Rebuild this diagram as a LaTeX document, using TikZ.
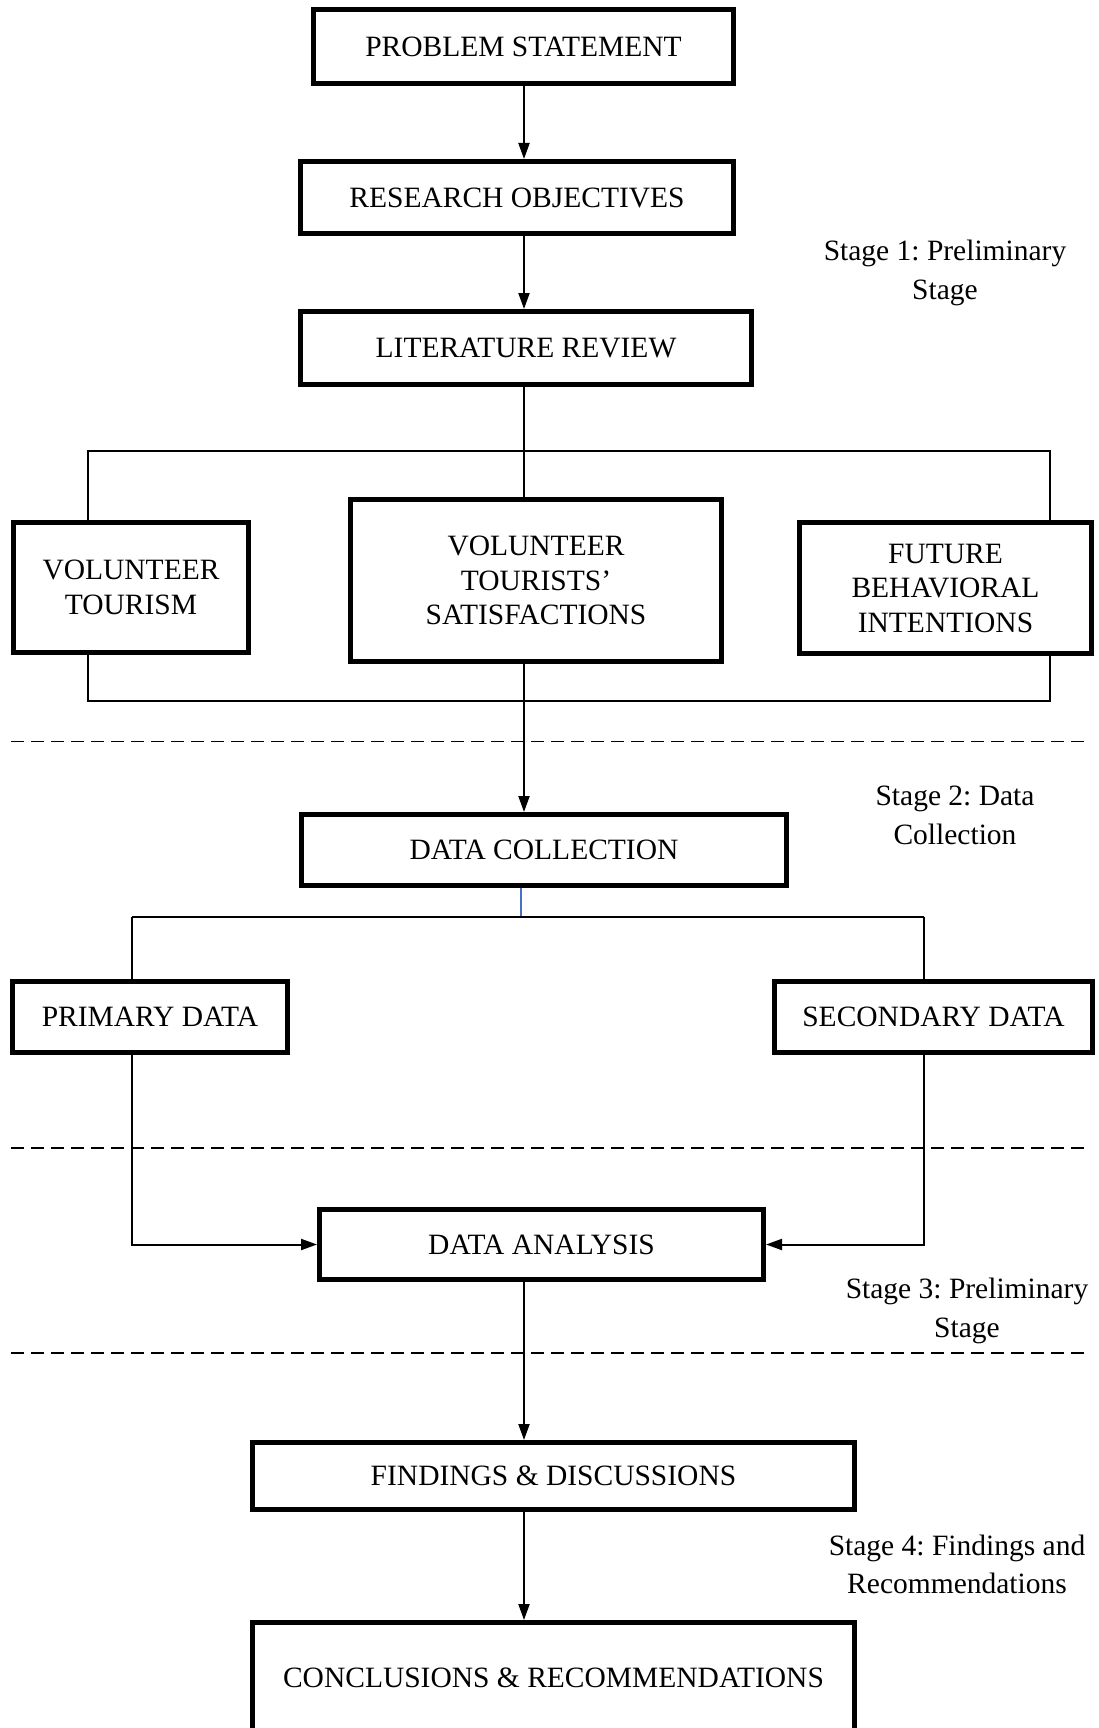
\documentclass[tikz,border=0pt]{standalone}
\usepackage{fontspec}
\setmainfont{Liberation Serif}
\usetikzlibrary{arrows.meta}
\definecolor{linkblue}{RGB}{68,114,196}
\frenchspacing
\begin{document}
\begin{tikzpicture}[x=1pt,y=-1pt,
  box/.style={draw,line width=5pt,fill=white,inner sep=0pt,align=center,font=\fontsize{29.5}{34.5}\selectfont},
  conn/.style={line width=2pt},
  arr/.style={line width=2pt,-{Triangle[length=16pt,width=11pt]}},
  stagelbl/.style={align=center,font=\fontsize{29.5}{38.5}\selectfont,inner sep=0pt},
  sep/.style={line width=1.8pt,dash pattern=on 13pt off 7pt}]
\useasboundingbox (0,0) rectangle (1098,1728);
\clip (0,0) rectangle (1098,1728);
\fill[white] (0,0) rectangle (1098,1728);

% separators
\coordinate (d1a) at (11,741.5);  \coordinate (d1b) at (1091,741.5);
\coordinate (d2a) at (11,1148);   \coordinate (d2b) at (1091,1148);
\coordinate (d3a) at (11,1353);   \coordinate (d3b) at (1091,1353);
\draw[sep] (d1a) -- (d1b);
\draw[sep] (d2a) -- (d2b);
\draw[sep] (d3a) -- (d3b);

% bracket around literature topics
\coordinate (bTL) at (88,451);
\coordinate (bBR) at (1049.5,700.5);
\draw[conn] (bTL) rectangle (bBR);

% spine
\coordinate (sp) at (524,0);

% boxes
\node[box,minimum width=420,minimum height=74] (ps) at (523.5,46.5) {PROBLEM STATEMENT};
\node[box,minimum width=433,minimum height=72] (ro) at (517,197.5) {RESEARCH OBJECTIVES};
\node[box,minimum width=451,minimum height=73] (lit) at (526,348) {LITERATURE REVIEW};
\node[box,minimum width=235,minimum height=130] (vt) at (131,587.5) {VOLUNTEER\\TOURISM};
\node[box,minimum width=371,minimum height=162] (vts) at (536,580.5) {VOLUNTEER\\TOURISTS’\\SATISFACTIONS};
\node[box,minimum width=292,minimum height=131] (fbi) at (945.5,588) {FUTURE\\BEHAVIORAL\\INTENTIONS};
\node[box,minimum width=485,minimum height=71] (dc) at (544,850) {DATA COLLECTION};
\node[box,minimum width=275,minimum height=71] (prim) at (150,1017) {PRIMARY DATA};
\node[box,minimum width=318,minimum height=71] (sec) at (933.5,1017) {SECONDARY DATA};
\node[box,minimum width=444,minimum height=70] (da) at (541.5,1244.5) {DATA ANALYSIS};
\node[box,minimum width=602,minimum height=67] (fd) at (553.5,1476) {FINDINGS \& DISCUSSIONS};
\node[box,minimum width=602,minimum height=111] (cr) at (553.5,1678) {CONCLUSIONS \& RECOMMENDATIONS};

% stage labels
\node[stagelbl] (s1) at (945,273) {Stage 1: Preliminary\\Stage};
\node[stagelbl] (s2) at (955,815.5) {Stage 2: Data\\Collection};
\node[stagelbl] (s3) at (967,1311) {Stage 3: Preliminary\\Stage};
\node[stagelbl] (s4) at (957,1564.5) {Stage 4: Findings and\\Recommendations};

% connectors
\draw[arr] (ps.south -| sp) -- (ro.north -| sp);
\draw[arr] (ro.south -| sp) -- (lit.north -| sp);
\draw[conn] (lit.south -| sp) -- (vts.north -| sp);
\draw[arr] (vts.south -| sp) -- (dc.north -| sp);

\coordinate (dl) at (132,916.5);
\coordinate (dr) at (924,916.5);
\coordinate (dm) at (521,916.5);
\draw[line width=1.3pt,linkblue] (dc.south -| dm) -- (dm);
\draw[conn] (dl) -- (dr);
\draw[conn] (dl) -- (dl |- prim.north);
\draw[conn] (dr) -- (dr |- sec.north);
\draw[arr] (prim.south -| dl) |- (da.west);
\draw[arr] (sec.south -| dr) |- (da.east);

\draw[arr] (da.south -| sp) -- (fd.north -| sp);
\draw[arr] (fd.south -| sp) -- (cr.north -| sp);
\end{tikzpicture}
\end{document}
